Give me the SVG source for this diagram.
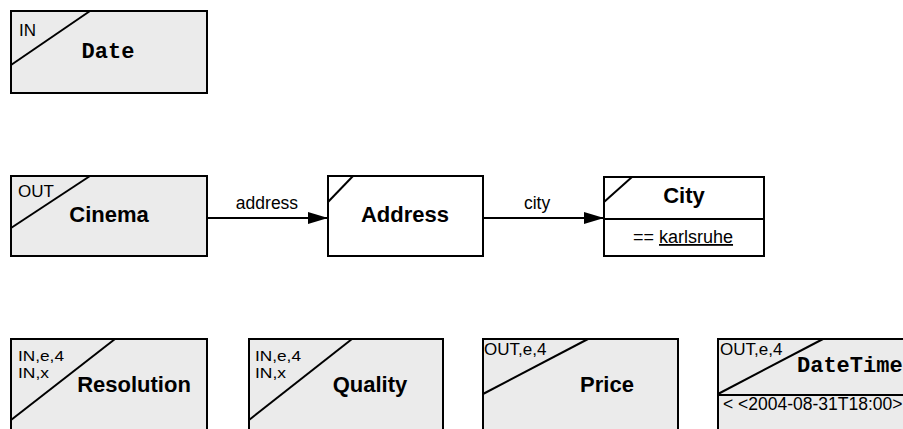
<svg xmlns="http://www.w3.org/2000/svg" width="903" height="429" viewBox="0 0 903 429">
<style>
.box{fill:#ebebeb;stroke:#000;stroke-width:2}
.wbox{fill:#fff;stroke:#000;stroke-width:2}
.ln{stroke:#000;stroke-width:2;fill:none}
.sm{font-family:"Liberation Sans",Arial,sans-serif;font-size:17px;fill:#000}
.sm2{font-family:"Liberation Sans",Arial,sans-serif;font-size:14.5px;fill:#000}
.lbl{font-family:"Liberation Sans",Arial,sans-serif;font-size:22px;font-weight:bold;fill:#000;text-anchor:middle}
.mono{font-family:"Liberation Mono","Courier New",monospace;font-size:22px;font-weight:bold;fill:#000}
.edge{font-family:"Liberation Sans",Arial,sans-serif;font-size:17.5px;fill:#000;text-anchor:middle}
</style>
<defs>
<marker id="arr" markerWidth="20" markerHeight="12" refX="20" refY="6" orient="auto" markerUnits="userSpaceOnUse">
<path d="M0,0 L20,6 L0,12 Z" fill="#000"/>
</marker>
</defs>
<rect width="903" height="429" fill="#fff"/>
<g id="connectors">
<line class="ln" x1="207" y1="218" x2="328" y2="218" marker-end="url(#arr)"/>
<text class="edge" x="267" y="209">address</text>
<line class="ln" x1="483" y1="218" x2="604" y2="218" marker-end="url(#arr)"/>
<text class="edge" x="537" y="209">city</text>
</g>
<g id="date">
<rect class="box" x="11" y="11" width="196" height="82"/>
<line class="ln" x1="11" y1="65" x2="90" y2="11"/>
<text class="sm" x="19" y="36">IN</text>
<text class="mono" x="108" y="58" text-anchor="middle">Date</text>
</g>
<g id="cinema">
<rect class="box" x="11" y="176" width="196" height="80"/>
<line class="ln" x1="11" y1="228" x2="90" y2="176"/>
<text class="sm" x="18" y="197">OUT</text>
<text class="lbl" x="109" y="222">Cinema</text>
</g>
<g id="address">
<rect class="wbox" x="328" y="176" width="155" height="80"/>
<line class="ln" x1="328" y1="202" x2="353" y2="176"/>
<text class="lbl" x="405" y="222">Address</text>
</g>
<g id="city">
<rect class="wbox" x="604" y="177" width="160" height="79"/>
<line class="ln" x1="604" y1="219" x2="764" y2="219"/>
<line class="ln" x1="604" y1="202" x2="632" y2="177"/>
<text class="lbl" x="684" y="203">City</text>
<text class="edge" x="683" y="243" style="font-size:18px">== <tspan text-decoration="underline">karlsruhe</tspan></text>
</g>
<g id="resolution">
<rect class="box" x="11" y="339" width="196" height="100"/>
<line class="ln" x1="11" y1="420" x2="115" y2="339"/>
<text class="sm2" x="18" y="361" textLength="46" lengthAdjust="spacingAndGlyphs">IN,e,4</text>
<text class="sm2" x="18" y="378" textLength="31" lengthAdjust="spacingAndGlyphs">IN,x</text>
<text class="lbl" x="134" y="392">Resolution</text>
</g>
<g id="quality">
<rect class="box" x="249" y="339" width="194" height="100"/>
<line class="ln" x1="249" y1="420" x2="352" y2="339"/>
<text class="sm2" x="255" y="361" textLength="46" lengthAdjust="spacingAndGlyphs">IN,e,4</text>
<text class="sm2" x="255" y="378" textLength="31" lengthAdjust="spacingAndGlyphs">IN,x</text>
<text class="lbl" x="370" y="392">Quality</text>
</g>
<g id="price">
<rect class="box" x="483" y="339" width="195" height="100"/>
<line class="ln" x1="483" y1="394" x2="588" y2="339"/>
<text class="sm" x="484" y="355">OUT,e,4</text>
<text class="lbl" x="607" y="392">Price</text>
</g>
<g id="datetime">
<rect class="box" x="718" y="339" width="200" height="100"/>
<line class="ln" x1="718" y1="395" x2="918" y2="395"/>
<line class="ln" x1="718" y1="394" x2="823" y2="339"/>
<text class="sm" x="720" y="355">OUT,e,4</text>
<text class="mono" x="797" y="372">DateTime</text>
<text class="sm" x="723" y="410" style="font-size:17.5px">&lt; &lt;2004-08-31T18:00&gt;</text>
</g>
</svg>
